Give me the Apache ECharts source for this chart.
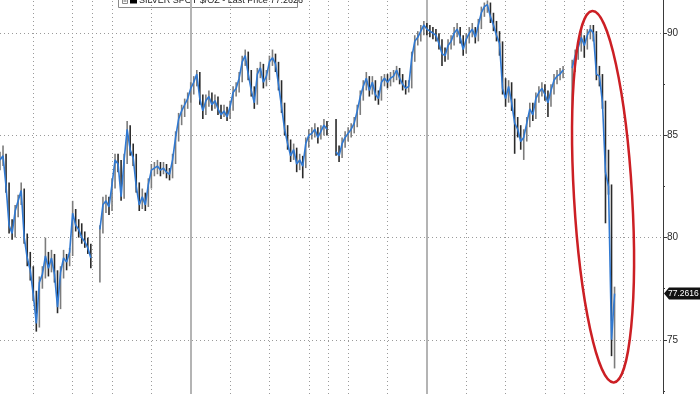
<!DOCTYPE html>
<html><head><meta charset="utf-8">
<script src="https://cdn.jsdelivr.net/npm/echarts@6/dist/echarts.min.js"></script>
<style>html,body{margin:0;padding:0;background:#fff;overflow:hidden;width:700px;height:394px}
#wrap{position:absolute;left:0;top:0;width:700px;height:394px;overflow:hidden}
#c{position:absolute;left:0;top:-69px;width:700px;height:511px}</style>
</head><body><div id="wrap"><div id="c"></div></div>
<script>
// ---- data (one slot per bar, null = market closed) ----
const seriesName = 'SILVER SPOT $/OZ';
const legendPrice = '77.2626';
const lastPrice = 77.2616;
const closes = [
  83.8,84.0,82.5,80.6,80.2,81.3,81.8,82.3,80.0,79.0,
  78.4,77.2,75.8,77.8,78.2,79.1,78.5,79.0,78.2,76.6,
  78.3,79.0,78.8,79.3,81.2,80.6,80.4,80.0,79.8,79.5,
  79.0,null,null,80.4,81.6,81.8,81.5,82.6,83.8,83.6,
  82.0,83.8,85.3,84.3,83.9,82.5,81.6,82.0,81.6,82.6,
  83.3,83.4,83.5,83.3,83.4,83.2,83.1,83.8,84.9,85.8,
  86.2,86.5,86.8,87.3,87.6,88.0,86.8,86.2,86.7,86.9,
  86.5,86.7,86.3,86.0,86.2,85.9,86.4,87.1,87.3,87.8,
  88.6,88.9,88.0,87.2,86.6,88.0,88.3,87.6,87.9,88.6,
  88.8,88.5,87.5,86.4,85.3,84.6,84.0,84.3,83.6,83.8,
  83.5,84.6,85.0,85.1,85.3,84.9,85.2,85.5,85.3,null,
  null,84.2,84.0,84.6,84.9,85.1,85.3,85.6,86.2,86.9,
  87.4,87.8,87.2,87.6,87.0,86.8,87.6,87.8,87.6,87.8,
  87.9,88.2,87.8,87.5,87.3,87.4,88.8,89.6,89.8,90.1,
  90.4,90.2,90.1,90.0,89.9,89.5,89.0,88.9,89.4,89.6,
  90.0,90.2,89.8,89.2,89.7,90.0,90.2,89.8,90.4,91.0,
  91.3,91.4,90.8,90.4,89.9,89.5,87.3,86.8,87.4,86.6,
  85.6,85.3,84.7,84.9,85.6,86.3,86.0,86.8,87.1,87.3,
  87.0,86.6,87.2,87.7,87.9,88.0,88.2,null,null,88.3,
  88.9,89.3,89.8,89.4,89.9,90.2,90.0,88.0,87.9,86.6,
  83.2,82.5,75.0,77.2616
];
const highs = [
  84.2,84.5,84.1,82.7,80.9,81.6,82.1,82.7,82.4,80.2,
  79.3,78.6,77.4,78.1,78.6,80.0,79.3,79.4,79.2,78.4,
  78.6,79.4,79.2,79.5,81.8,81.4,80.9,80.7,80.3,80.0,
  79.7,null,null,80.6,82.0,82.1,82.0,82.9,84.1,84.1,
  83.8,84.1,85.7,85.5,84.6,84.1,82.7,82.4,82.2,82.9,
  83.6,83.7,83.8,83.7,83.7,83.6,83.4,84.1,85.2,86.1,
  86.5,86.8,87.1,87.6,87.9,88.2,88.1,87.0,87.0,87.2,
  87.1,87.0,86.9,86.5,86.5,86.4,86.7,87.4,87.6,88.1,
  88.9,89.2,89.1,88.2,87.4,88.3,88.6,88.5,88.2,88.9,
  89.2,89.0,88.6,87.7,86.6,85.5,84.8,84.6,84.4,84.1,
  84.0,84.9,85.3,85.4,85.6,85.4,85.5,85.8,85.7,null,
  null,85.8,84.5,84.9,85.2,85.4,85.6,85.9,86.5,87.2,
  87.7,88.1,87.9,87.9,87.7,87.2,87.9,88.0,88.0,88.1,
  88.2,88.4,88.3,88.0,87.7,87.7,89.1,89.9,90.1,90.4,
  90.6,90.5,90.4,90.3,90.2,90.0,89.7,89.3,89.7,89.9,
  90.3,90.5,90.3,89.9,90.0,90.3,90.5,90.3,90.7,91.3,
  91.5,91.6,91.5,91.0,90.6,90.1,89.6,87.8,87.7,87.6,
  86.8,85.9,85.5,85.3,85.9,86.6,86.6,87.1,87.4,87.6,
  87.5,87.2,87.5,88.0,88.2,88.3,88.4,null,null,88.7,
  89.2,89.6,90.2,89.9,90.2,90.4,90.4,90.1,88.4,88.0,
  86.7,84.3,82.6,77.6
];
const lows = [
  83.3,83.5,82.2,80.2,79.9,80.0,81.0,81.6,79.7,78.6,
  77.9,76.9,75.4,75.6,77.5,78.0,78.1,78.3,77.8,76.3,
  76.5,78.0,78.4,78.6,79.1,80.3,80.0,79.7,79.5,79.2,
  78.5,null,null,77.8,80.2,81.2,81.1,81.3,82.4,83.2,
  81.8,81.9,83.6,84.0,83.5,82.2,81.3,81.4,81.3,81.5,
  82.4,83.0,83.1,83.0,83.1,82.9,82.8,82.9,83.6,84.7,
  85.5,85.9,86.3,86.6,87.0,87.4,86.5,85.8,86.0,86.4,
  86.2,86.3,86.0,85.8,85.9,85.7,85.8,86.2,86.9,87.1,
  87.6,88.4,87.7,86.9,86.3,86.5,87.8,87.3,87.4,87.7,
  88.4,88.1,87.2,86.1,85.0,84.3,83.7,83.8,83.2,83.3,
  82.9,83.4,84.4,84.8,84.9,84.6,84.8,85.0,85.0,null,
  null,84.0,83.7,83.9,84.4,84.7,84.9,85.1,85.4,86.0,
  86.7,87.2,86.9,87.0,86.7,86.5,86.7,87.4,87.3,87.4,
  87.6,87.7,87.5,87.2,87.0,87.1,87.3,88.6,89.4,89.6,
  89.9,89.9,89.8,89.7,89.6,89.2,88.4,88.6,88.7,89.2,
  89.4,89.8,89.5,88.9,89.0,89.5,89.8,89.5,89.6,90.2,
  90.8,91.0,90.5,90.1,89.6,88.9,87.0,86.4,86.6,86.2,
  84.1,84.9,84.3,83.8,84.7,85.4,85.7,85.8,86.6,86.9,
  86.7,85.9,86.4,87.0,87.5,87.7,87.8,null,null,86.2,
  88.1,88.7,89.1,88.8,89.2,89.7,89.6,87.7,87.4,86.3,
  80.7,82.1,74.2,73.6
];
const yTickLabels = [75, 80, 85, 90];
// vertical grid positions, in bar slots
const dayLines = [11, 24, 30.5, 37, 50, 76, 89, 102, 108.5, 115, 128, 154, 167, 180, 186.5, 193, 206];
const weekLines = [63, 141];
// annotation ellipse (data units)
const ring = { x: 199.2, y: 82.0, rx: 9.6, ry: 9.1, tilt: 0.058 };
const pageOffset = 69; // chart canvas starts above the visible window

// ---- build ----
const lineData = closes.map((v, i) => [i, v == null ? '-' : v]);
const barData = [];
let prev = null;
closes.forEach((c, i) => {
  if (c == null) return;
  barData.push([i, lows[i], highs[i], prev == null || c >= prev ? 1 : 0]);
  prev = c;
});

const chart = echarts.init(document.getElementById('c'), null, { renderer: 'canvas' });
const font = 'Liberation Sans, Arial, sans-serif';
chart.setOption({
  animation: false,
  backgroundColor: '#ffffff',
  grid: { left: 0, right: 37, top: 0, bottom: 0, containLabel: false },
  xAxis: {
    type: 'value', min: 0, max: 219,
    axisLine: { show: false }, axisTick: { show: false }, axisLabel: { show: false },
    splitLine: { show: false }
  },
  yAxis: {
    type: 'value', position: 'right', min: 70, max: 95, interval: 5,
    axisLine: { show: true, onZero: false, lineStyle: { color: '#3a3a3a', width: 1 } },
    axisTick: { show: true, length: 4, lineStyle: { color: '#3a3a3a' } },
    minorTick: { show: true, splitNumber: 2, length: 2, lineStyle: { color: '#3a3a3a' } },
    axisLabel: {
      color: '#2a2a2a', fontSize: 10, fontFamily: font, margin: 4,
      formatter: v => yTickLabels.indexOf(v) >= 0 ? String(v) : ''
    },
    splitLine: { show: true, lineStyle: { color: '#9a9a9a', type: [1, 3], width: 1 } }
  },
  series: [
    {
      type: 'custom', name: seriesName, z: 3, silent: true,
      data: barData,
      encode: { x: 0, y: [1, 2] },
      renderItem: (params, api) => {
        const x = api.value(0);
        const p1 = api.coord([x, api.value(1)]);
        const p2 = api.coord([x, api.value(2)]);
        const up = api.value(3) === 1;
        return {
          type: 'line',
          shape: { x1: p1[0], y1: p1[1], x2: p2[0], y2: p2[1] },
          style: { stroke: up ? '#7c7c7c' : '#2a2a2a', lineWidth: 1.6 }
        };
      },
      markLine: {
        z: 1, silent: true, symbol: 'none', label: { show: false },
        data: dayLines.map(v => ({ xAxis: v, lineStyle: { color: '#9a9a9a', type: [1, 3], width: 1 } }))
          .concat(weekLines.map(v => ({ xAxis: v, lineStyle: { color: '#b4b4b4', type: 'solid', width: 2 } })))
      }
    },
    {
      type: 'line', name: seriesName, z: 4, silent: true,
      data: lineData, showSymbol: false, symbol: 'none', connectNulls: false,
      lineStyle: { color: '#3079d2', width: 1.6 }
    }
  ]
});

const py = chart.convertToPixel({ yAxisIndex: 0 }, lastPrice);
const axisX = chart.convertToPixel({ xAxisIndex: 0 }, 219);
const c0 = chart.convertToPixel({ xAxisIndex: 0, yAxisIndex: 0 }, [ring.x, ring.y]);
const c1 = chart.convertToPixel({ xAxisIndex: 0, yAxisIndex: 0 }, [ring.x + ring.rx, ring.y + ring.ry]);

chart.setOption({
  graphic: [
    {
      type: 'ellipse', x: c0[0], y: c0[1], rotation: ring.tilt, z: 10, silent: true,
      shape: { cx: 0, cy: 0, rx: Math.abs(c1[0] - c0[0]), ry: Math.abs(c0[1] - c1[1]) },
      style: { fill: 'none', stroke: '#cc1f24', lineWidth: 2.5 }
    },
    {
      type: 'group', x: axisX + 1, y: py, z: 20, silent: true,
      children: [
        { type: 'polygon', shape: { points: [[0, 0], [5, -6], [37, -6], [37, 6], [5, 6]] },
          style: { fill: '#111111' } },
        { type: 'text', style: { x: 4, y: 0.5, text: String(lastPrice), fill: '#ffffff',
          font: '8.5px ' + font, verticalAlign: 'middle', align: 'left' } }
      ]
    },
    {
      type: 'group', x: 118, y: pageOffset - 10, z: 20, silent: true,
      children: [
        { type: 'rect', shape: { x: 0.5, y: 0.5, width: 179, height: 17 },
          style: { fill: '#ffffff', stroke: '#8a8a8a', lineWidth: 1 } },
        { type: 'rect', shape: { x: 4.5, y: 8.5, width: 5, height: 5 },
          style: { fill: '#ffffff', stroke: '#8a8a8a', lineWidth: 1 } },
        { type: 'line', shape: { x1: 5.5, y1: 11, x2: 8.5, y2: 11 },
          style: { stroke: '#666', lineWidth: 1 } },
        { type: 'rect', shape: { x: 12, y: 6.5, width: 7, height: 7 }, style: { fill: '#000000' } },
        { type: 'text', style: { x: 21, y: 10.5, text: seriesName + ' - Last Price ' + legendPrice,
          fill: '#222222', font: '9px ' + font, verticalAlign: 'middle', align: 'left' } }
      ]
    }
  ]
});
</script>
</body></html>
